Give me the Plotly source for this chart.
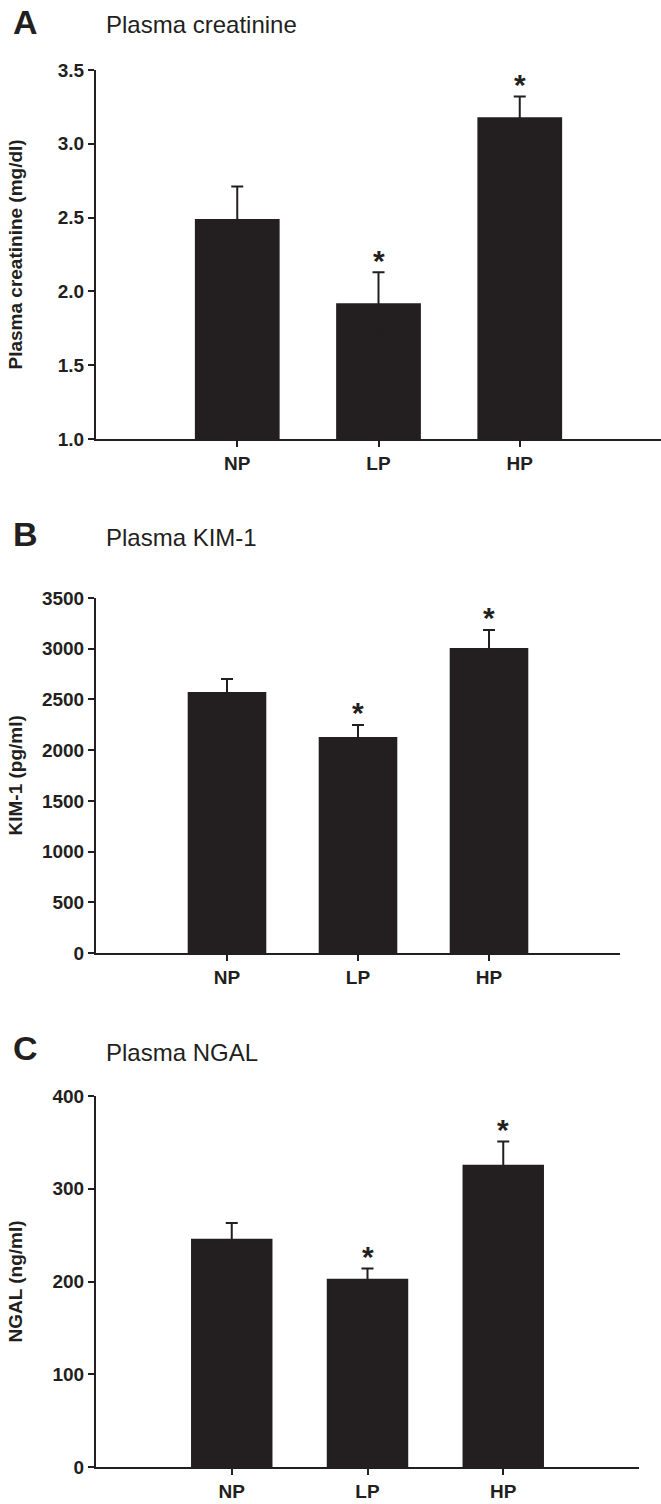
import plotly.graph_objects as go

W, H = 661, 1504

groups = ["NP", "LP", "HP"]

creat_mean = [2.49, 1.92, 3.18]
creat_sem = [0.22, 0.21, 0.14]
creat_sig = [False, True, True]

kim_mean = [2573, 2130, 3007]
kim_sem = [128, 118, 178]
kim_sig = [False, True, True]

ngal_mean = [246, 203, 326]
ngal_sem = [17, 11, 25]
ngal_sig = [False, True, True]

creat_ticks = [1.0, 1.5, 2.0, 2.5, 3.0, 3.5]
kim_ticks = [0, 500, 1000, 1500, 2000, 2500, 3000, 3500]
ngal_ticks = [0, 100, 200, 300, 400]

INK = "#231f20"
FONT = "Liberation Sans, Arial, Helvetica, sans-serif"


def px_x(p):
    return p / W


def px_y(p):
    return 1 - p / H


panels = [
    dict(letter="A", title="Plasma creatinine", ytitle="Plasma creatinine (mg/dl)",
         mean=creat_mean, sem=creat_sem, sig=creat_sig, ticks=creat_ticks, rng=[1.0, 3.5],
         fmt=".1f", x0=96, x1=661, ytop=70, ybot=439, let_y=22, tit_y=25),
    dict(letter="B", title="Plasma KIM-1", ytitle="KIM-1 (pg/ml)",
         mean=kim_mean, sem=kim_sem, sig=kim_sig, ticks=kim_ticks, rng=[0, 3500],
         fmt="d", x0=96, x1=620, ytop=598, ybot=953, let_y=534, tit_y=537),
    dict(letter="C", title="Plasma NGAL", ytitle="NGAL (ng/ml)",
         mean=ngal_mean, sem=ngal_sem, sig=ngal_sig, ticks=ngal_ticks, rng=[0, 400],
         fmt="d", x0=96, x1=639, ytop=1096, ybot=1467, let_y=1048, tit_y=1052),
]

fig = go.Figure()
annotations = []

for i, p in enumerate(panels, start=1):
    xa = "x" if i == 1 else f"x{i}"
    ya = "y" if i == 1 else f"y{i}"
    xkey = "xaxis" if i == 1 else f"xaxis{i}"
    ykey = "yaxis" if i == 1 else f"yaxis{i}"

    fig.add_trace(go.Bar(
        x=groups, y=p["mean"], xaxis=xa, yaxis=ya, width=0.6,
        marker=dict(color=INK, line=dict(width=0)),
        error_y=dict(type="data", array=p["sem"], symmetric=True,
                     color=INK, thickness=2, width=6),
        showlegend=False, hoverinfo="skip",
    ))

    fig.layout[xkey] = dict(
        domain=[px_x(p["x0"]), px_x(p["x1"])], anchor=ya,
        type="category", range=[-1, 3], automargin=False, fixedrange=True,
        showline=True, linecolor=INK, linewidth=2,
        ticks="outside", ticklen=6, tickwidth=2, tickcolor=INK,
        showgrid=False, zeroline=False,
        tickfont=dict(family=FONT, size=19, color=INK, weight="bold"),
    )
    fig.layout[ykey] = dict(
        domain=[px_y(p["ybot"]), px_y(p["ytop"])], anchor=xa,
        range=p["rng"], tickvals=p["ticks"], tickformat=p["fmt"],
        automargin=False, fixedrange=True,
        showline=True, linecolor=INK, linewidth=2,
        ticks="outside", ticklen=6, tickwidth=2, tickcolor=INK,
        showgrid=False, zeroline=False,
        tickfont=dict(family=FONT, size=19, color=INK, weight="bold"),
    )

    # significance asterisks above error bars
    for g, m, s, sig in zip(groups, p["mean"], p["sem"], p["sig"]):
        if sig:
            annotations.append(dict(
                x=g, y=m + s, xref=xa, yref=ya, text="<b>*</b>", showarrow=False,
                xanchor="center", yanchor="middle", yshift=12,
                font=dict(family=FONT, size=30, color=INK),
            ))

    # panel letter
    annotations.append(dict(
        x=px_x(11), y=px_y(p["let_y"]), xref="paper", yref="paper",
        text=f"<b>{p['letter']}</b>", showarrow=False, xanchor="left", yanchor="middle",
        font=dict(family=FONT, size=34, color=INK),
    ))
    # panel title
    annotations.append(dict(
        x=px_x(104), y=px_y(p["tit_y"]), xref="paper", yref="paper",
        text=p["title"], showarrow=False, xanchor="left", yanchor="middle",
        font=dict(family=FONT, size=24, color=INK),
    ))
    # y-axis title
    annotations.append(dict(
        x=px_x(15), y=px_y((p["ytop"] + p["ybot"]) / 2), xref="paper", yref="paper",
        text=f"<b>{p['ytitle']}</b>", showarrow=False, textangle=-90,
        xanchor="center", yanchor="middle",
        font=dict(family=FONT, size=19, color=INK),
    ))

fig.update_layout(
    width=W, height=H,
    margin=dict(l=0, r=0, t=0, b=0, autoexpand=False),
    paper_bgcolor="white", plot_bgcolor="white",
    annotations=annotations,
    bargap=0.4,
)

fig.write_html(
    "out.html",
    config={"displayModeBar": False},
    post_script=(
        "document.body.style.margin='0';document.body.style.padding='0';"
        "document.documentElement.style.overflow='hidden';"
    ),
)
